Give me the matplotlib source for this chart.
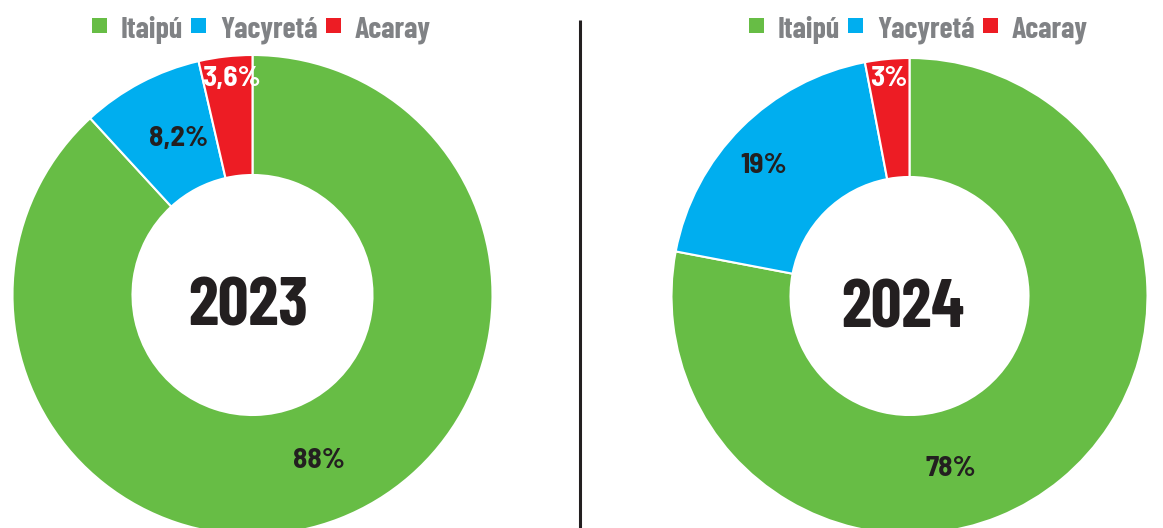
import numpy as np
import matplotlib
matplotlib.use("Agg")
import matplotlib.pyplot as plt
from matplotlib.patches import Rectangle
from matplotlib import font_manager

# ---- data ----
categories = ["Itaipú", "Yacyretá", "Acaray"]
years = ["2023", "2024"]
values_2023 = [88, 8.2, 3.6]
values_2024 = [78, 19, 3]
labels_2023 = ["88%", "8,2%", "3,6%"]
labels_2024 = ["78%", "19%", "3%"]

colors = ["#67bd45", "#00aeef", "#ed1c24"]
label_colors = ["#231f20", "#231f20", "#ffffff"]
DARK = "#231f20"
GRAY = "#808285"

names = {f.name for f in font_manager.fontManager.ttflist}
FONT = [f for f in ["Barlow Condensed", "Roboto Condensed", "DejaVu Sans"] if f in names][0]
FONT2 = [f for f in ["Barlow Semi Condensed", "Barlow Condensed", "DejaVu Sans"] if f in names][0]

W, H = 1163, 528
fig = plt.figure(figsize=(W / 100, H / 100), dpi=100)
ax = fig.add_axes([0, 0, 1, 1])

# layout (pixel coords, y measured from bottom)
centers = [(252.5, H - 295), (909.5, H - 296)]
radii = [240, 238]
hole = 0.50
# label placement: (angle deg, radius px) per slice (visual centre of label)
label_pos = [
    [(-67.96, 176), (114.9, 175), (95.6, 220)],
    [(-76.24, 174.5), (137.66, 198), (95.45, 221)],
]
year_pos = [(248, H - 325), (902.5, H - 327)]
legend_x0 = [92, 749]
legend_sq_y = H - 25
legend_base = H - 38

pct_size = 21
cap_px = 0.70 * pct_size * 100 / 72

for i, (vals, labs) in enumerate([(values_2023, labels_2023), (values_2024, labels_2024)]):
    cx, cy = centers[i]
    r = radii[i]
    ax.pie(vals, colors=colors, startangle=90, counterclock=False,
           center=(cx, cy), radius=r,
           wedgeprops=dict(width=r * (1 - hole), edgecolor="white", linewidth=1.5))
    for j, lab in enumerate(labs):
        a, rr = label_pos[i][j]
        x = cx + rr * np.cos(np.radians(a))
        y = cy + rr * np.sin(np.radians(a)) - cap_px / 2
        ax.text(x, y, lab, ha="center", va="baseline", fontsize=pct_size,
                fontweight="bold", family=FONT2, color=label_colors[j])
    ax.text(year_pos[i][0], year_pos[i][1], years[i], ha="center", va="baseline",
            fontsize=49, fontweight="bold", family=FONT, color=DARK)

ax.set_xlim(0, W)
ax.set_ylim(0, H)
ax.set_aspect("equal")
ax.axis("off")

# divider
ax.plot([580, 580], [0, H - 20], color=DARK, lw=2.2, solid_capstyle="butt")

# legends
fig.canvas.draw()
renderer = fig.canvas.get_renderer()
sq = 15
for i in range(2):
    x = legend_x0[i]
    for j, cat in enumerate(categories):
        ax.add_patch(Rectangle((x, legend_sq_y - sq / 2), sq, sq, color=colors[j], lw=0))
        t = ax.text(x + sq + 14, legend_base, cat, ha="left", va="baseline", fontsize=21.5,
                    fontweight="bold", family=FONT, color=GRAY)
        bb = t.get_window_extent(renderer)
        x = bb.x1 + 8

fig.savefig("out.png", dpi=100)
